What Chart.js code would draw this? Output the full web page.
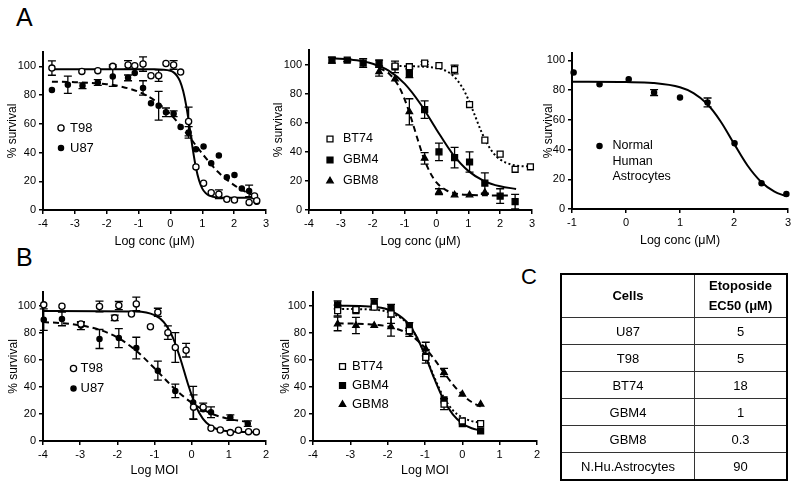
<!DOCTYPE html>
<html><head><meta charset="utf-8">
<script src="https://cdn.jsdelivr.net/npm/chart.js@4.4.1/dist/chart.umd.min.js"></script>
<style>
body{margin:0;background:#fff;font-family:"Liberation Sans",Arial,sans-serif;}
#wrap{position:relative;width:800px;height:484px;overflow:hidden;background:#fff;}
canvas{position:absolute;}
.lbl{position:absolute;line-height:1;color:#000;}
#tbl{position:absolute;left:560px;top:273px;width:228px;height:202px;border-collapse:collapse;border:2.5px solid #000;font-size:13px;color:#000;}
#tbl td,#tbl th{border:1px solid #333;text-align:center;padding:0;}
#tbl th{font-weight:bold;height:42px;line-height:20px;}
#tbl td{height:26px;}
</style></head>
<body><div id="wrap">
<div class="lbl" style="left:16px;top:5px;font-size:25px;">A</div>
<div class="lbl" style="left:16px;top:245px;font-size:25px;">B</div>
<div class="lbl" style="left:521px;top:266px;font-size:22px;">C</div>
<canvas id="a1"></canvas><canvas id="a2"></canvas><canvas id="a3"></canvas>
<canvas id="b1"></canvas><canvas id="b2"></canvas>
<table id="tbl"><thead><tr><th style="width:132px">Cells</th><th>Etoposide<br>EC50 (μM)</th></tr></thead><tbody id="tbody"></tbody></table>
</div>
<script>
// ---------- DATA ----------
const yTicks = [0, 20, 40, 60, 80, 100];
const xTicksA12 = [-4, -3, -2, -1, 0, 1, 2, 3];
const xTicksA3 = [-1, 0, 1, 2, 3];
const xTicksB = [-4, -3, -2, -1, 0, 1, 2];

// Panel A1 (etoposide, T98 / U87)
const a1T98X = [-3.72,-2.78,-2.28,-1.81,-1.33,-1.12,-0.86,-0.61,-0.37,-0.14,0.10,0.32,0.57,0.80,1.04,1.28,1.52,1.77,2.01,2.47,2.64,2.71];
const a1T98Y = [98.8,96.5,97,100,101,100.5,101.6,93.5,93.5,102,101,96,61.6,30,18.6,12,11,7.4,7,5.3,9.8,6.5];
const a1T98E = [5,0,0,1,3,0,5,0,4,0,3,0,10,0,0,0,3,0,0,0,0,0];
const a1U87X = [-3.72,-3.22,-2.76,-2.28,-1.81,-1.33,-1.12,-0.86,-0.61,-0.37,-0.14,0.10,0.32,0.57,0.80,1.04,1.28,1.52,1.77,2.01,2.24,2.47,2.71];
const a1U87Y = [83.5,87.2,86.5,88.8,93,92,95.3,85,74.4,72.6,68,67,57.7,54,42.3,44.2,32.6,38,22.8,24.4,15,13.3,5.8];
const a1U87E = [0,6,2,2,7,2,0,5,0,10,3,2,0,4,0,0,0,0,0,0,0,4,0];
const a1T98FitX = [-3.72,-2,-1,-0.5,0,0.1,0.2,0.3,0.4,0.5,0.6,0.7,0.8,0.9,1.0,1.1,1.2,1.5,2.0,2.75];
const a1T98FitY = [98,98,98,98,96.9,95.8,93.6,89.7,82.8,72.1,57.9,42.6,29.6,20.5,14.9,11.9,10.2,8.7,8.5,8.5];
const a1U87FitX = [-3.72,-3,-2,-1.5,-1,-0.5,0,0.5,1,1.5,2,2.5,2.75];
const a1U87FitY = [89.3,89.0,87.6,85.7,82.3,76.3,66.7,53.6,39.2,26.4,17.3,11.2,8.8];

// Panel A2 (BT74 / GBM4 / GBM8)
const a2BT74X = [-1.3,-0.85,-0.37,0.08,0.57,1.04,1.52,2.0,2.47,2.95];
const a2BT74Y = [99,98.5,101,99.3,96.6,72.5,48,38.4,28,29.7];
const a2BT74E = [0,0,1,0,3,0,0,0,0,0];
const a2GBM4X = [-3.28,-2.8,-2.3,-1.8,-1.3,-0.85,-0.37,0.08,0.57,1.04,1.52,2.0,2.47];
const a2GBM4Y = [103,103,101,101,98.4,94,69,40,36,33,18.5,9.6,5.7];
const a2GBM4E = [2,1,3,2,4,3,6,6,7,7,7,5,5];
const a2GBM8X = [-1.8,-1.3,-0.85,-0.37,0.08,0.57,1.04,1.52];
const a2GBM8Y = [95,90,67.5,35.5,12.6,10.3,10.3,12];
const a2GBM8E = [3,0,9,4,2,0,0,0];
const a2BT74FitX = [-1.3,0,0.5,0.8,1,1.2,1.4,1.6,1.8,2,2.4,2.95];
const a2BT74FitY = [99.0,97.7,92.8,84.7,76.1,65.4,54.4,45.3,38.8,34.7,31.0,29.8];
const a2GBM4FitX = [-3.3,-2.5,-2,-1.5,-1,-0.5,0,0.5,1,1.5,2,2.5];
const a2GBM4FitY = [104.4,102.9,100.5,95.8,86.9,72.9,55.4,38.8,26.9,19.9,16.3,14.5];
const a2GBM8FitX = [-1.8,-1.5,-1.2,-1,-0.8,-0.6,-0.4,-0.2,0,0.3,0.6,1,1.5,2.3];
const a2GBM8FitY = [97.6,94.0,85.8,76.3,63.6,49.3,35.9,25.8,19.0,13.7,11.4,10.4,10.1,10.0];

// Panel A3 (normal human astrocytes)
const a3NHAX = [-0.97,-0.49,0.05,0.52,1.0,1.51,2.01,2.51,2.97];
const a3NHAY = [91.9,84,87.4,78.4,75,71.7,44.3,17.3,10.1];
const a3NHAE = [0,0,0,2,0,3,0,0,0];
const a3FitX = [-1,0,0.5,1,1.25,1.5,1.75,2,2.25,2.5,2.75,2.95];
const a3FitY = [85.6,85.4,84.8,81.9,78.0,70.8,59.1,44.0,29.3,18.4,11.7,8.8];

// Panel B1 (MOI, T98 / U87)
const b1T98X = [-3.98,-3.49,-2.98,-2.48,-2.07,-1.96,-1.62,-1.49,-1.11,-0.91,-0.64,-0.44,-0.15,0.05,0.31,0.52,0.77,1.04,1.26,1.53,1.74];
const b1T98Y = [100.5,99.5,86.4,99.3,90.9,100,93.8,101.2,84.4,95,80,69,67,25,25,9.4,8.1,6.2,7.9,6.9,6.7];
const b1T98E = [0,0,1,4,2,3,0,5,0,3,5,11,5,9,3,0,0,0,0,0,0];
const b1U87X = [-3.98,-3.49,-2.98,-2.48,-1.96,-1.49,-0.91,-0.44,0.04,0.31,0.52,1.04,1.51];
const b1U87Y = [89.6,90.1,85.2,75.3,76,68.6,51.9,37,28.4,23.5,21.2,17.3,12.8];
const b1U87E = [8,5,3,7,7,8,7,5,12,0,4,2,2];
const b1T98FitX = [-4,-1.5,-1,-0.75,-0.5,-0.3,-0.1,0.1,0.3,0.5,0.8,1.2,1.7];
const b1T98FitY = [96,95.6,92.9,87.7,76.0,60.4,42.1,26.5,16.5,11.2,7.9,6.8,6.5];
const b1U87FitX = [-4,-3.5,-3,-2.5,-2,-1.5,-1,-0.5,0,0.5,1,1.5];
const b1U87FitY = [87.8,87.0,85.4,82.3,76.4,66.8,53.7,39.7,28.2,20.6,16.3,14.1];

// Panel B2 (MOI, BT74 / GBM4 / GBM8)
const b2X = [-3.34,-2.85,-2.36,-1.91,-1.42,-0.98,-0.49,0,0.49];
const b2BT74Y = [96.3,97,98.8,93.8,81.5,61.7,27.2,14.8,12.8];
const b2BT74E = [4,0,0,7,0,0,4,0,0];
const b2GBM4Y = [100.5,96.3,102,98.3,84.4,62.5,30.4,12.8,7.4];
const b2GBM4E = [3,0,3,0,3,5,0,0,0];
const b2GBM8Y = [86.4,85.2,85.2,84.4,80.2,67.9,50.6,34.6,27.2];
const b2GBM8E = [5,6,0,7,3,5,3,0,0];
const b2FitX = [-3.34,-2.5,-2,-1.5,-1.25,-1,-0.75,-0.5,-0.25,0,0.25,0.49];
const b2BT74FitY = [97.5,97.1,95.3,87.6,78.2,63.8,46.9,32.3,22.6,17.4,14.7,13.5];
const b2GBM4FitY = [99.9,99.3,97.1,88.2,78.2,63.4,46.0,30.4,19.4,12.9,9.4,7.7];
const b2GBM8FitY = [86.9,86.2,84.6,80.0,75.4,68.8,60.3,50.8,41.7,34.2,28.8,25.4];

// Table C
const tableCells = ['U87','T98','BT74','GBM4','GBM8','N.Hu.Astrocytes'];
const tableEC50 = ['5','5','18','1','0.3','90'];

// ---------- BUILD ----------
const FONT = "'Liberation Sans', Arial, sans-serif";
Chart.defaults.font.family = FONT;
Chart.defaults.color = '#000';

const tb = document.getElementById('tbody');
tableCells.forEach((c, i) => {
  const tr = document.createElement('tr');
  tr.innerHTML = '<td>' + c + '</td><td>' + tableEC50[i] + '</td>';
  tb.appendChild(tr);
});

const zip = (xs, ys) => xs.map((x, i) => ({x: x, y: ys[i]}));
const STY = {
  openCircle: {pointStyle:'circle', radius:3.1, fill:'#fff'},
  dot: {pointStyle:'circle', radius:2.6, fill:'#000'},
  openSquare: {pointStyle:'rect', radius:4.2, fill:'#fff'},
  square: {pointStyle:'rect', radius:4.2, fill:'#000'},
  triangle: {pointStyle:'triangle', radius:3.7, fill:'#000'}
};
function pts(xs, ys, errs, sty) {
  const s = STY[sty];
  return {data: zip(xs, ys), errors: errs, showLine:false, pointStyle:s.pointStyle, pointRadius:s.radius,
    pointBackgroundColor:s.fill, pointBorderColor:'#000', pointBorderWidth:1.3, order:1, clip:false};
}
function fit(xs, ys, dash) {
  return {data: zip(xs, ys), showLine:true, pointRadius:0, borderColor:'#000', borderWidth:2,
    borderDash: dash, cubicInterpolationMode:'monotone', order:3, clip:false, fill:false};
}
const DASH = [6, 4], DOT = [2, 2.5], SOLID = [];

const errorBars = {
  id:'errorBars',
  beforeDatasetsDraw(chart) {
    const ctx = chart.ctx, xs = chart.scales.x, ys = chart.scales.y;
    ctx.save(); ctx.strokeStyle = '#000'; ctx.lineWidth = 1.3;
    chart.data.datasets.forEach(ds => {
      if (!ds.errors) return;
      ds.data.forEach((p, j) => {
        const e = ds.errors[j]; if (!e) return;
        const px = xs.getPixelForValue(p.x), y1 = ys.getPixelForValue(p.y + e), y2 = ys.getPixelForValue(p.y - e);
        ctx.beginPath();
        ctx.moveTo(px, y1); ctx.lineTo(px, y2);
        ctx.moveTo(px - 4, y1); ctx.lineTo(px + 4, y1);
        ctx.moveTo(px - 4, y2); ctx.lineTo(px + 4, y2);
        ctx.stroke();
      });
    });
    ctx.restore();
  }
};
const innerLegend = {
  id:'innerLegend',
  afterDraw(chart, args, o) {
    if (!o || !o.items) return;
    const ctx = chart.ctx, ca = chart.chartArea;
    ctx.save();
    o.items.forEach((it, k) => {
      const cx = ca.left + o.dx, cy = ca.top + o.dy + k * o.gap;
      if (it.sty) {
        const s = STY[it.sty];
        ctx.fillStyle = s.fill; ctx.strokeStyle = '#000'; ctx.lineWidth = 1.3;
        Chart.helpers.drawPoint(ctx, {pointStyle:s.pointStyle, radius:s.radius, borderWidth:1.3, rotation:0}, cx, cy);
      }
      ctx.fillStyle = '#000'; ctx.font = o.font; ctx.textBaseline = 'middle'; ctx.textAlign = 'left';
      ctx.fillText(it.text, cx + o.tx, cy);
    });
    ctx.restore();
  }
};

const panels = [
  {id:'a1', L:43, R:266, T:52, B:210, yw:42, xh:43, ymax:110, xmin:-4, xmax:3, xt:xTicksA12, xTitle:'Log conc (μM)',
   ds:[fit(a1T98FitX,a1T98FitY,SOLID), fit(a1U87FitX,a1U87FitY,DASH), pts(a1T98X,a1T98Y,a1T98E,'openCircle'), pts(a1U87X,a1U87Y,a1U87E,'dot')],
   lg:{dx:18, dy:76, gap:20, tx:9, font:'13px '+FONT, items:[{sty:'openCircle',text:'T98'},{sty:'dot',text:'U87'}]}},
  {id:'a2', L:309, R:532, T:50, B:210, yw:42, xh:43, ymax:110, xmin:-4, xmax:3, xt:xTicksA12, xTitle:'Log conc (μM)',
   ds:[fit(a2BT74FitX,a2BT74FitY,DOT), fit(a2GBM4FitX,a2GBM4FitY,SOLID), fit(a2GBM8FitX,a2GBM8FitY,DASH),
       pts(a2BT74X,a2BT74Y,a2BT74E,'openSquare'), pts(a2GBM4X,a2GBM4Y,a2GBM4E,'square'), pts(a2GBM8X,a2GBM8Y,a2GBM8E,'triangle')],
   lg:{dx:21, dy:89, gap:21, tx:13, font:'12.5px '+FONT, items:[{sty:'openSquare',text:'BT74'},{sty:'square',text:'GBM4'},{sty:'triangle',text:'GBM8'}]}},
  {id:'a3', L:572, R:788, T:53.3, B:209, yw:35, xh:43, ymax:105, xmin:-1, xmax:3, xt:xTicksA3, xTitle:'Log conc (μM)',
   ds:[fit(a3FitX,a3FitY,SOLID), pts(a3NHAX,a3NHAY,a3NHAE,'dot')],
   lg:{dx:27.5, dy:93, gap:15.5, tx:13, font:'12.5px '+FONT, items:[{sty:'dot',text:'Normal'},{text:'Human'},{text:'Astrocytes'}]}},
  {id:'b1', L:43, R:266, T:291.5, B:440, yw:41, xh:41, ymax:110, xmin:-4, xmax:2, xt:xTicksB, xTitle:'Log MOI',
   ds:[fit(b1T98FitX,b1T98FitY,SOLID), fit(b1U87FitX,b1U87FitY,DASH), pts(b1T98X,b1T98Y,b1T98E,'openCircle'), pts(b1U87X,b1U87Y,b1U87E,'dot')],
   lg:{dx:30.5, dy:76.5, gap:20, tx:7, font:'13px '+FONT, items:[{sty:'openCircle',text:'T98'},{sty:'dot',text:'U87'}]}},
  {id:'b2', L:313, R:537, T:291.5, B:440, yw:39, xh:41, ymax:110, xmin:-4, xmax:2, xt:xTicksB, xTitle:'Log MOI',
   ds:[fit(b2FitX,b2BT74FitY,DOT), fit(b2FitX,b2GBM4FitY,SOLID), fit(b2FitX,b2GBM8FitY,DASH),
       pts(b2X,b2BT74Y,b2BT74E,'openSquare'), pts(b2X,b2GBM4Y,b2GBM4E,'square'), pts(b2X,b2GBM8Y,b2GBM8E,'triangle')],
   lg:{dx:29.5, dy:74.5, gap:19, tx:9.5, font:'13px '+FONT, items:[{sty:'openSquare',text:'BT74'},{sty:'square',text:'GBM4'},{sty:'triangle',text:'GBM8'}]}}
];

const PT = 10, PR = 12;
panels.forEach(p => {
  const cv = document.getElementById(p.id);
  const w = Math.round(p.R - p.L + p.yw + PR), h = Math.round(p.B - p.T + PT + p.xh);
  cv.width = w; cv.height = h;
  cv.style.left = (p.L - p.yw) + 'px'; cv.style.top = (p.T - PT) + 'px';
  cv.style.width = w + 'px'; cv.style.height = h + 'px';
  const axisCommon = {
    border:{display:true, color:'#000', width:2},
    grid:{display:true, drawOnChartArea:false, drawTicks:true, tickLength:4, color:'#000', lineWidth:1.5},
  };
  new Chart(cv, {
    type:'scatter',
    data:{datasets:p.ds},
    options:{
      responsive:false, animation:false, devicePixelRatio:1,
      layout:{padding:{top:PT, right:PR, left:0, bottom:0}},
      plugins:{legend:{display:false}, tooltip:{enabled:false}, innerLegend:p.lg},
      scales:{
        x:Object.assign({type:'linear', min:p.xmin, max:p.xmax,
          ticks:{font:{size:11}, padding:3, maxRotation:0, autoSkip:false},
          title:{display:true, text:p.xTitle, font:{size:12.5}},
          afterBuildTicks:s => { s.ticks = p.xt.map(v => ({value:v})); },
          afterFit:s => { s.height = p.xh; }}, axisCommon),
        y:Object.assign({type:'linear', min:0, max:p.ymax,
          ticks:{font:{size:11}, padding:3, autoSkip:false},
          title:{display:true, text:'% survival', font:{size:12}},
          afterBuildTicks:s => { s.ticks = yTicks.map(v => ({value:v})); },
          afterFit:s => { s.width = p.yw; }}, axisCommon)
      }
    },
    plugins:[errorBars, innerLegend]
  });
});
</script>
</body></html>
